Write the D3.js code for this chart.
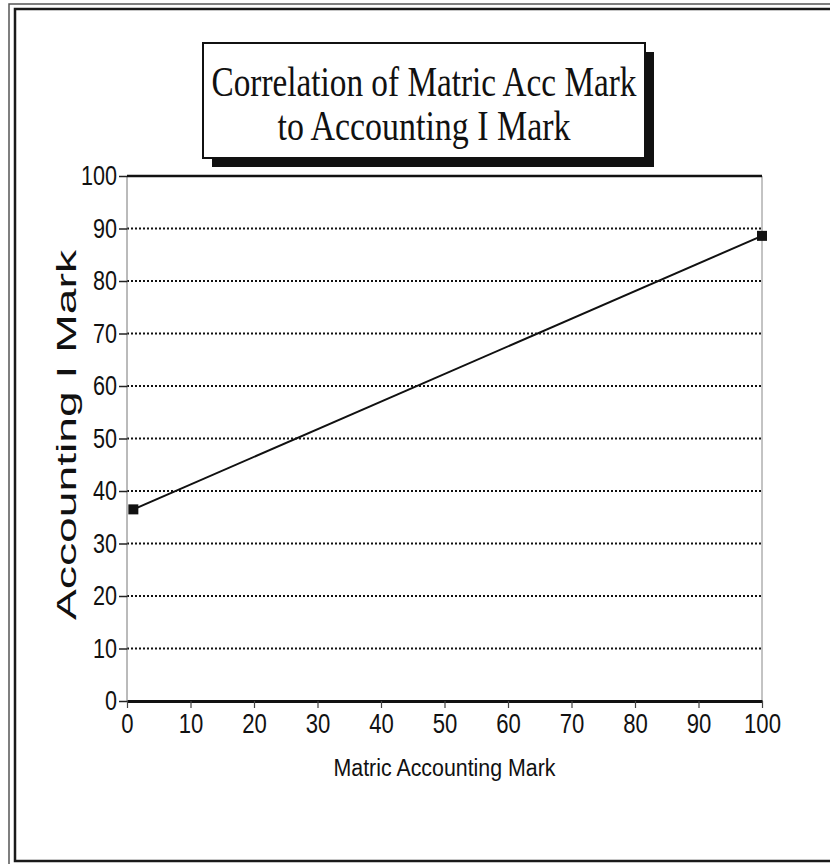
<!DOCTYPE html>
<html>
<head>
<meta charset="utf-8">
<script src="https://cdn.jsdelivr.net/npm/d3@7"></script>
<style>
  html, body { margin: 0; padding: 0; background: #fff; }
  svg { display: block; }
</style>
</head>
<body>
<div id="chart"></div>
<script>
// data
const titleLines = ["Correlation of Matric Acc Mark", "to Accounting I Mark"];
const xLabel = "Matric Accounting Mark";
const yLabel = "Accounting I Mark";
const matricMarks = [1, 100];
const accountingMarks = [36.5, 88.6];
const xTicks = [0, 10, 20, 30, 40, 50, 60, 70, 80, 90, 100];
const yTicks = [0, 10, 20, 30, 40, 50, 60, 70, 80, 90, 100];
const gridTicks = [10, 20, 30, 40, 50, 60, 70, 80, 90];

const W = 830, H = 864;
const plot = { left: 127, right: 762, top: 176, bottom: 701 };

const svg = d3.select("#chart").append("svg")
  .attr("width", W).attr("height", H);

// double frame round the page (right edge runs off the scan)
svg.append("rect")
  .attr("x", 9).attr("y", 4).attr("width", 850).attr("height", 880)
  .attr("fill", "none").attr("stroke", "#555").attr("stroke-width", 1.5);
svg.append("rect")
  .attr("x", 15).attr("y", 9).attr("width", 850).attr("height", 852)
  .attr("fill", "none").attr("stroke", "#1a1a1a").attr("stroke-width", 2.5);

const x = d3.scaleLinear().domain([0, 100]).range([plot.left, plot.right]);
const y = d3.scaleLinear().domain([0, 100]).range([plot.bottom, plot.top]);

// dotted grid
svg.append("g")
  .selectAll("line")
  .data(gridTicks)
  .join("line")
    .attr("x1", plot.left).attr("x2", plot.right)
    .attr("y1", d => y(d)).attr("y2", d => y(d))
    .attr("stroke", "#111").attr("stroke-width", 2)
    .attr("stroke-dasharray", "2,2");

// frame of plot: thin grey sides, heavy top and bottom
svg.append("line")
  .attr("x1", plot.left).attr("x2", plot.left)
  .attr("y1", plot.top).attr("y2", plot.bottom)
  .attr("stroke", "#777").attr("stroke-width", 1);
svg.append("line")
  .attr("x1", plot.right).attr("x2", plot.right)
  .attr("y1", plot.top).attr("y2", plot.bottom)
  .attr("stroke", "#888").attr("stroke-width", 1);
svg.append("line")
  .attr("x1", plot.left).attr("x2", plot.right)
  .attr("y1", y(100)).attr("y2", y(100))
  .attr("stroke", "#111").attr("stroke-width", 2.5);

const tickFont = "'Liberation Sans', Arial, sans-serif";

// y axis
const gy = svg.append("g")
  .attr("transform", `translate(${plot.left},0)`)
  .call(d3.axisLeft(y).tickValues(yTicks).tickSize(8).tickPadding(2).tickSizeOuter(0));
gy.select(".domain").remove();
gy.selectAll(".tick line").attr("stroke", "#222").attr("stroke-width", 1.5);
gy.selectAll(".tick text")
  .style("font-family", tickFont).style("font-size", "27px").attr("fill", "#111")
  .attr("textLength", d => String(d).length * 12)
  .attr("lengthAdjust", "spacingAndGlyphs");

// x axis
const gx = svg.append("g")
  .attr("transform", `translate(0,${plot.bottom})`)
  .call(d3.axisBottom(x).tickValues(xTicks).tickSize(7).tickPadding(6).tickSizeOuter(0));
gx.select(".domain").attr("stroke", "#111").attr("stroke-width", 3);
gx.selectAll(".tick line").attr("stroke", "#444").attr("stroke-width", 1.2);
gx.selectAll(".tick text")
  .style("font-family", tickFont).style("font-size", "27px").attr("fill", "#111")
  .attr("textLength", d => String(d).length * 12.3)
  .attr("lengthAdjust", "spacingAndGlyphs");

// axis titles
svg.append("text")
  .attr("x", (plot.left + plot.right) / 2).attr("y", 776)
  .attr("text-anchor", "middle")
  .style("font-family", tickFont).style("font-size", "23px").attr("fill", "#111")
  .attr("textLength", 222).attr("lengthAdjust", "spacingAndGlyphs")
  .text(xLabel);

svg.append("text")
  .attr("transform", "translate(76,435) rotate(-90)")
  .attr("text-anchor", "middle")
  .style("font-family", tickFont).style("font-size", "27px").attr("fill", "#111")
  .attr("textLength", 370).attr("lengthAdjust", "spacingAndGlyphs")
  .text(yLabel);

// series
const pts = matricMarks.map((m, i) => ({ x: m, y: accountingMarks[i] }));
svg.append("path")
  .datum(pts)
  .attr("fill", "none").attr("stroke", "#111").attr("stroke-width", 2)
  .attr("d", d3.line().x(d => x(d.x)).y(d => y(d.y)));
svg.selectAll(".pt")
  .data(pts)
  .join("rect")
    .attr("class", "pt")
    .attr("x", d => x(d.x) - 5).attr("y", d => y(d.y) - 5)
    .attr("width", 10).attr("height", 10)
    .attr("fill", "#111");

// title box with drop shadow
const tb = { x: 203, y: 43, w: 442, h: 115 };
svg.append("rect")
  .attr("x", tb.x + 9).attr("y", tb.y + 9).attr("width", tb.w).attr("height", tb.h)
  .attr("fill", "#111");
svg.append("rect")
  .attr("x", tb.x).attr("y", tb.y).attr("width", tb.w).attr("height", tb.h)
  .attr("fill", "#fff").attr("stroke", "#111").attr("stroke-width", 2);

const titleLens = [425, 293];
svg.append("g")
  .selectAll("text")
  .data(titleLines)
  .join("text")
    .attr("x", tb.x + tb.w / 2)
    .attr("y", (d, i) => 96 + i * 44)
    .attr("text-anchor", "middle")
    .style("font-family", "'Liberation Serif', 'DejaVu Serif', serif")
    .style("font-size", "42px").attr("fill", "#111")
    .attr("textLength", (d, i) => titleLens[i])
    .attr("lengthAdjust", "spacingAndGlyphs")
    .text(d => d);
</script>
</body>
</html>
